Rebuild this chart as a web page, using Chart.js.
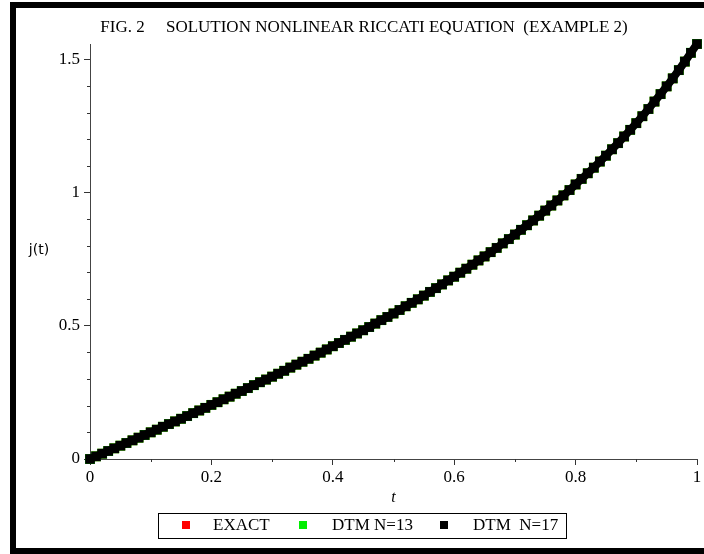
<!DOCTYPE html>
<html>
<head>
<meta charset="utf-8">
<script src="https://cdn.jsdelivr.net/npm/chart.js@4.4.1/dist/chart.umd.min.js"></script>
<style>
  html, body { margin: 0; padding: 0; background: #fff; }
  #wrap { width: 704px; height: 554px; position: relative; }
</style>
</head>
<body>
<div id="wrap"><canvas id="riccatiChart" width="704" height="554"></canvas></div>
<script>
// t values (step 0.01)
const tValues = [
  0, 0.01, 0.02, 0.03, 0.04, 0.05, 0.06, 0.07, 0.08, 0.09,
  0.10, 0.11, 0.12, 0.13, 0.14, 0.15, 0.16, 0.17, 0.18, 0.19,
  0.20, 0.21, 0.22, 0.23, 0.24, 0.25, 0.26, 0.27, 0.28, 0.29,
  0.30, 0.31, 0.32, 0.33, 0.34, 0.35, 0.36, 0.37, 0.38, 0.39,
  0.40, 0.41, 0.42, 0.43, 0.44, 0.45, 0.46, 0.47, 0.48, 0.49,
  0.50, 0.51, 0.52, 0.53, 0.54, 0.55, 0.56, 0.57, 0.58, 0.59,
  0.60, 0.61, 0.62, 0.63, 0.64, 0.65, 0.66, 0.67, 0.68, 0.69,
  0.70, 0.71, 0.72, 0.73, 0.74, 0.75, 0.76, 0.77, 0.78, 0.79,
  0.80, 0.81, 0.82, 0.83, 0.84, 0.85, 0.86, 0.87, 0.88, 0.89,
  0.90, 0.91, 0.92, 0.93, 0.94, 0.95, 0.96, 0.97, 0.98, 0.99,
  1.00
];

// j(t)
const exactJ = [
  0, 0.010, 0.020, 0.030, 0.040, 0.050, 0.060, 0.070, 0.080, 0.090,
  0.100, 0.110, 0.121, 0.131, 0.141, 0.151, 0.161, 0.172, 0.182, 0.192,
  0.203, 0.213, 0.224, 0.234, 0.245, 0.255, 0.266, 0.277, 0.288, 0.298,
  0.309, 0.320, 0.331, 0.343, 0.354, 0.365, 0.376, 0.388, 0.399, 0.411,
  0.423, 0.435, 0.447, 0.459, 0.471, 0.483, 0.495, 0.508, 0.521, 0.533,
  0.546, 0.559, 0.573, 0.586, 0.599, 0.613, 0.627, 0.641, 0.655, 0.670,
  0.684, 0.699, 0.714, 0.729, 0.745, 0.760, 0.776, 0.792, 0.809, 0.825,
  0.842, 0.860, 0.877, 0.895, 0.913, 0.932, 0.951, 0.970, 0.989, 1.009,
  1.030, 1.051, 1.072, 1.093, 1.116, 1.138, 1.162, 1.185, 1.210, 1.235,
  1.260, 1.286, 1.313, 1.341, 1.369, 1.398, 1.428, 1.459, 1.491, 1.524,
  1.557
];

// the two DTM curves sit exactly on top of the exact one
const dtm13J = exactJ;
const dtm17J = exactJ;

const seriesNames = ['EXACT', 'DTM N=13', 'DTM  N=17'];
const seriesColors = ['#ff0000', '#00ee00', '#000000'];

const xTicks = [0, 0.2, 0.4, 0.6, 0.8, 1];
const yTicks = [0, 0.5, 1, 1.5];
const serif = '"Liberation Serif", "Times New Roman", serif';

function toPoints(ys) {
  return tValues.map((t, i) => ({ x: t, y: ys[i] }));
}

// frame, title, minor ticks, y label and boxed legend
const maplePlugin = {
  id: 'maple',
  beforeDraw(chart) {
    const ctx = chart.ctx;
    ctx.save();
    ctx.fillStyle = '#fff';
    ctx.fillRect(0, 0, chart.width, chart.height);
    ctx.fillStyle = '#000';
    ctx.fillRect(10, 2, 694, 6);
    ctx.fillRect(10, 2, 6, 552);
    ctx.fillRect(10, 548, 694, 6);
    ctx.restore();
  },
  afterDraw(chart) {
    const ctx = chart.ctx;
    const xs = chart.scales.x, ys = chart.scales.y;
    ctx.save();
    // minor ticks
    ctx.strokeStyle = '#333';
    ctx.lineWidth = 1;
    ctx.beginPath();
    for (let v = 0.1; v < 1; v += 0.2) {
      const px = Math.round(xs.getPixelForValue(v)) + 0.5;
      ctx.moveTo(px, ys.bottom);
      ctx.lineTo(px, ys.bottom + 3);
    }
    for (let k = 1; k <= 15; k++) {
      if (k % 5 === 0) continue;
      const py = Math.round(ys.getPixelForValue(k / 10)) + 0.5;
      ctx.moveTo(xs.left - 3, py);
      ctx.lineTo(xs.left, py);
    }
    ctx.stroke();

    // title
    ctx.fillStyle = '#000';
    ctx.font = '17px ' + serif;
    ctx.textAlign = 'center';
    ctx.textBaseline = 'middle';
    ctx.fillText('FIG. 2     SOLUTION NONLINEAR RICCATI EQUATION  (EXAMPLE 2)', 364, 28);

    // y label, horizontal
    ctx.font = '14px "DejaVu Sans", sans-serif';
    ctx.fillText('j(t)', 39, 250);

    // legend
    ctx.strokeStyle = '#000';
    ctx.strokeRect(158.5, 513.5, 408, 25);
    const markX = [186, 303, 444];
    const textX = [213, 332, 473];
    ctx.font = '17px ' + serif;
    ctx.textAlign = 'left';
    chart.data.datasets.forEach((ds, i) => {
      ctx.fillStyle = ds.backgroundColor;
      ctx.fillRect(markX[i] - 4, 521, 8, 8);
      ctx.fillStyle = '#000';
      ctx.fillText(ds.label, textX[i], 526);
    });
    ctx.restore();
  }
};

new Chart(document.getElementById('riccatiChart'), {
  type: 'scatter',
  data: {
    datasets: [
      { label: seriesNames[0], data: toPoints(exactJ), order: 2, backgroundColor: seriesColors[0], borderColor: seriesColors[0], pointStyle: 'rect', pointRadius: 6.8, borderWidth: 0, clip: false },
      { label: seriesNames[1], data: toPoints(dtm13J), order: 1, backgroundColor: seriesColors[1], borderColor: seriesColors[1], pointStyle: 'rect', pointRadius: 7.0, borderWidth: 0, clip: false },
      { label: seriesNames[2], data: toPoints(dtm17J), order: 0, backgroundColor: seriesColors[2], borderColor: seriesColors[2], pointStyle: 'rect', pointRadius: 6.8, pointBorderWidth: 0, showLine: true, borderWidth: 8, clip: false }
    ]
  },
  options: {
    responsive: false,
    animation: false,
    events: [],
    layout: { padding: { left: 0, right: 7, top: 44, bottom: 47 } },
    plugins: {
      legend: { display: false },
      title: { display: false },
      tooltip: { enabled: false }
    },
    scales: {
      x: {
        type: 'linear',
        min: 0,
        max: 1,
        afterFit(scale) { scale.height = 48; },
        afterBuildTicks(scale) { scale.ticks = xTicks.map(v => ({ value: v })); },
        grid: { drawOnChartArea: false, tickLength: 6, tickColor: '#333' },
        border: { display: true, color: '#444', width: 1 },
        ticks: { color: '#000', padding: 2, font: { family: serif, size: 17 }, maxRotation: 0, callback: v => String(v) },
        title: { display: true, text: 't', color: '#000', padding: 0, font: { family: serif, size: 16, style: 'italic' } }
      },
      y: {
        type: 'linear',
        min: 0,
        max: 1.557,
        afterFit(scale) { scale.width = 90; },
        afterBuildTicks(scale) { scale.ticks = yTicks.map(v => ({ value: v })); },
        grid: { drawOnChartArea: false, tickLength: 6, tickColor: '#333' },
        border: { display: true, color: '#444', width: 1 },
        ticks: { color: '#000', padding: 4, font: { family: serif, size: 17 }, callback: v => String(v) }
      }
    }
  },
  plugins: [maplePlugin]
});
</script>
</body>
</html>
